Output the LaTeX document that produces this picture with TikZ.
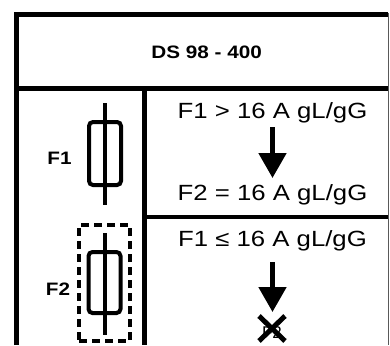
\documentclass[tikz,border=0pt]{standalone}
\usepackage{graphicx}
\usepackage{fontspec}
\setmainfont{Liberation Sans}
\usetikzlibrary{arrows.meta}
\newcommand{\hs}[1]{\scalebox{1.17}[1]{#1}}
\newcommand{\hb}[1]{\scalebox{1.15}[1]{#1}}
\begin{document}
\begin{tikzpicture}[x=1pt,y=-1pt,
  frame/.style={line width=4.5pt,line join=miter},
  fuse/.style={line width=4pt},
  bigtxt/.style={inner sep=0pt,anchor=base,font=\fontsize{22}{26}\selectfont},
  boldtxt/.style={inner sep=0pt,anchor=base,font=\fontsize{18}{21}\selectfont\bfseries},
  bigarrow/.style={line width=5pt,-{Triangle[width=27pt,length=25pt]}},
  cross/.style={line width=5pt}]
\useasboundingbox (0,0) rectangle (390,345);
% frame
\draw[frame] (16.5,345) -- (16.5,14.7) -- (388.3,14.7);
\draw[gray!70!black,line width=1pt] (388.3,13) -- (388.3,345);
\draw[frame] (14.3,88.3) -- (388.3,88.3);
\draw[frame] (144.5,88.3) -- (144.5,345);
\draw[frame] (144.5,217) -- (388.3,217);
% texts
\node[boldtxt] (title) at (206.7,58.5) {\hb{DS 98 - 400}};
\node[boldtxt] (lf1) at (59.5,164.5) {\hb{F1}};
\node[boldtxt] (lf2) at (58,295) {\hb{F2}};
\node[bigtxt] (t1) at (272.5,118.3) {\hs{F1 > 16 A gL/gG}};
\node[bigtxt] (t2) at (272.5,200) {\hs{F2 = 16 A gL/gG}};
\node[bigtxt] (t3) at (272.5,246.7) {\hs{F1 ≤ 16 A gL/gG}};
% fuse F1
\node[fuse,draw,rounded corners=4pt,minimum width=32pt,minimum height=63pt,inner sep=0pt] (fuse1) at (105,153.5) {};
\coordinate (f1top) at (105,103);
\coordinate (f1bot) at (105,205);
\draw[fuse] (f1top) -- (f1bot);
% fuse F2 with dashed box
\node[draw,line width=4pt,dash pattern=on 8pt off 5pt,minimum width=51pt,minimum height=116pt,inner sep=0pt] (box2) at (104.5,283) {};
\node[fuse,draw,rounded corners=4pt,minimum width=32pt,minimum height=61pt,inner sep=0pt] (fuse2) at (104.5,282.5) {};
\coordinate (f2top) at (104.5,233);
\coordinate (f2bot) at (104.5,335);
\draw[fuse] (f2top) -- (f2bot);
% arrows
\coordinate (a1s) at (272.5,127);
\coordinate (a1e) at (272.5,178);
\draw[bigarrow] (a1s) -- (a1e);
\coordinate (a2s) at (272.5,262);
\coordinate (a2e) at (272.5,312);
\draw[bigarrow] (a2s) -- (a2e);
% crossed F2
\node[inner sep=0pt,anchor=base,font=\fontsize{17}{20}\selectfont] (xf2) at (272,338) {F2};
\coordinate (x1) at (259,316);
\coordinate (x2) at (285,341);
\coordinate (x3) at (285,316);
\coordinate (x4) at (259,341);
\draw[cross] (x1) -- (x2);
\draw[cross] (x3) -- (x4);
\end{tikzpicture}
\end{document}
